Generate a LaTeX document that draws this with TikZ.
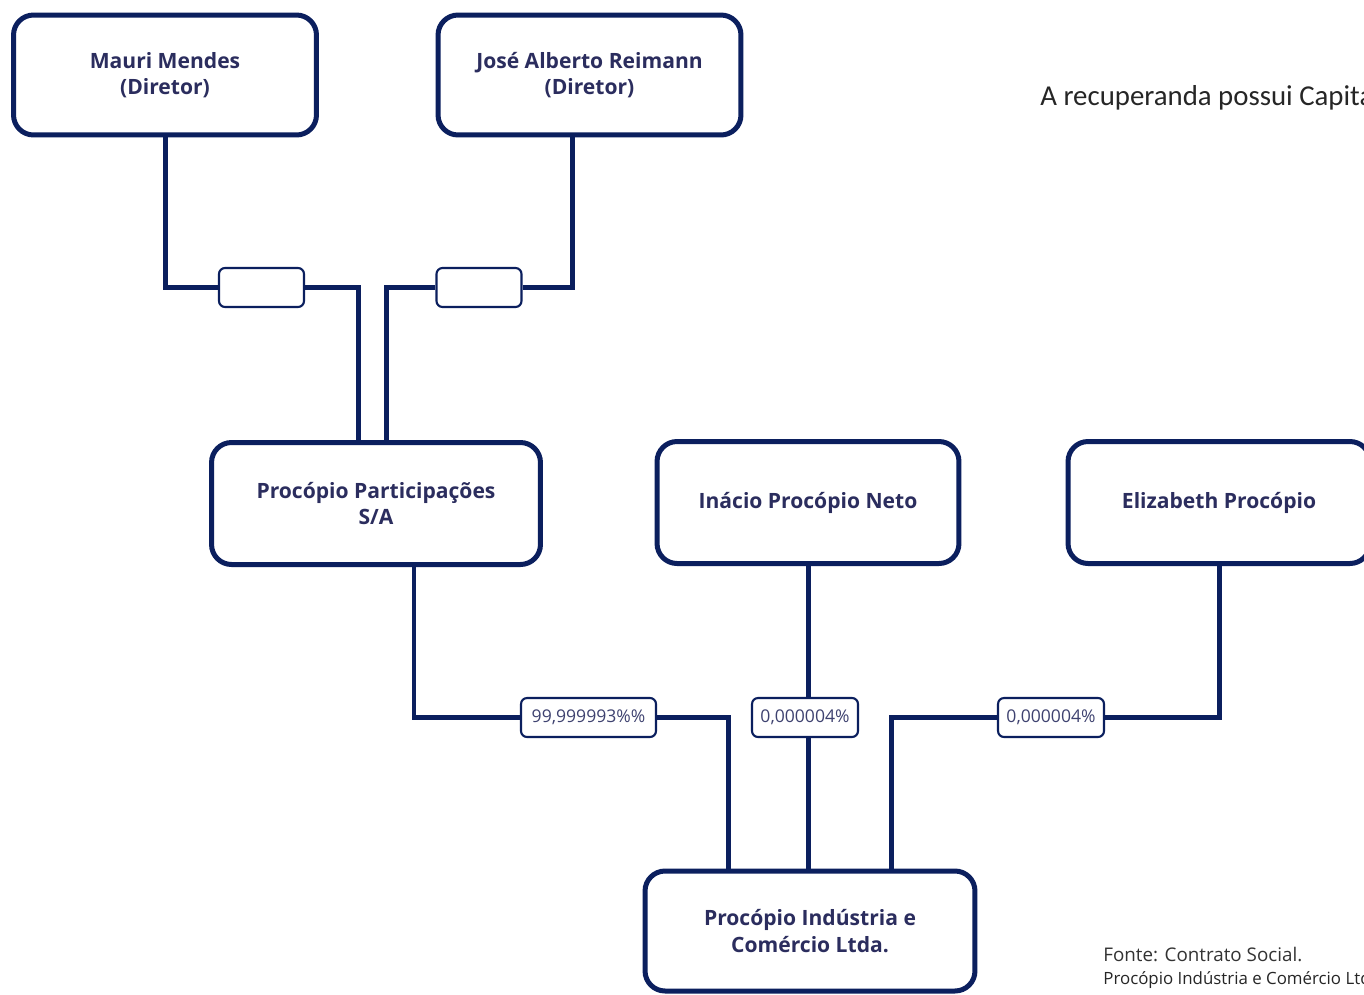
\documentclass[tikz,border=0pt]{standalone}
\usepackage{fontspec}
\setmainfont{Open Sans}
\newfontfamily\calib{Carlito}
\definecolor{navy}{HTML}{0B1F5E}
\definecolor{inknavy}{HTML}{2B2D5E}
\definecolor{tagink}{HTML}{3E4270}
\begin{document}
\begin{tikzpicture}[x=0.02cm,y=-0.02cm,
    box/.style={draw=navy,line width=0.1cm,rounded corners=0.4cm,fill=white,align=center,text=inknavy,font=\bfseries\fontsize{12}{15}\selectfont},
    tag/.style={draw=navy,line width=1.2pt,rounded corners=0.12cm,fill=white,minimum height=0.78cm,inner xsep=1pt,text=tagink,font=\fontsize{10}{12}\selectfont},
    link/.style={navy,line width=0.1cm}]
    \clip (0,0) rectangle (1364,994);
    \fill[white] (0,0) rectangle (1364,994);
    % owners of the holding
    \node[box,minimum width=6.06cm,minimum height=2.4cm] (mauri) at (165,75) {Mauri Mendes\\(Diretor)};
    \node[box,minimum width=6.06cm,minimum height=2.4cm] (jose) at (589.5,75) {José Alberto Reimann\\(Diretor)};
    \node[tag,minimum width=1.7cm] (d1) at (261.5,287.5) {};
    \node[tag,minimum width=1.7cm] (d2) at (479,287.5) {};
    % shareholders
    \node[box,minimum width=6.58cm,minimum height=2.44cm] (part) at (376,503.5) {Procópio Participações\\S/A};
    \node[box,minimum width=6.04cm,minimum height=2.44cm] (inacio) at (808,502.5) {Inácio Procópio Neto};
    \node[box,minimum width=6.04cm,minimum height=2.44cm] (eliz) at (1219,502.5) {Elizabeth Procópio};
    \node[tag,minimum width=2.7cm] (l1) at (588.5,717.5) {99,999993\%\%};
    \node[tag,minimum width=2.12cm] (l2) at (805,717.5) {0,000004\%};
    \node[tag,minimum width=2.12cm] (l3) at (1051,717.5) {0,000004\%};
    \node[box,minimum width=6.6cm,minimum height=2.4cm] (firm) at (810,931) {Procópio Indústria e\\Comércio Ltda.};
    \draw[link] (mauri.south) |- (d1.west);
    \draw[link] (d1.east) -| ([xshift=-0.36cm]part.north);
    \draw[link] ([xshift=-0.35cm]jose.south) |- (d2.east);
    \draw[link] (d2.west) -| ([xshift=0.2cm]part.north);
    \draw[link] ([xshift=0.76cm]part.south) |- (l1.west);
    \draw[link] (l1.east) -| ([xshift=-1.64cm]firm.north);
    \draw[link] (inacio.south) -- (inacio.south |- l2.north);
    \draw[link] (inacio.south |- l2.south) -- (inacio.south |- firm.north);
    \draw[link] (eliz.south) |- (l3.east);
    \draw[link] (l3.west) -| ([xshift=1.62cm]firm.north);
    % side texts
    \node[anchor=base west,inner sep=0pt,text=black!85,font=\calib\fontsize{16.4}{19}\selectfont] (cap) at (1040,105) {A recuperanda possui Capital};
    \node[anchor=base west,inner sep=0pt,text=black!80,font=\fontsize{10.7}{12}\selectfont] (src) at (1103,961) {Fonte: Contrato Social.};
    \node[anchor=base west,inner sep=0pt,text=black!85,font=\fontsize{9.6}{11}\selectfont] (firmname) at (1103,984) {Procópio Indústria e Comércio Ltda.};
\end{tikzpicture}
\end{document}
